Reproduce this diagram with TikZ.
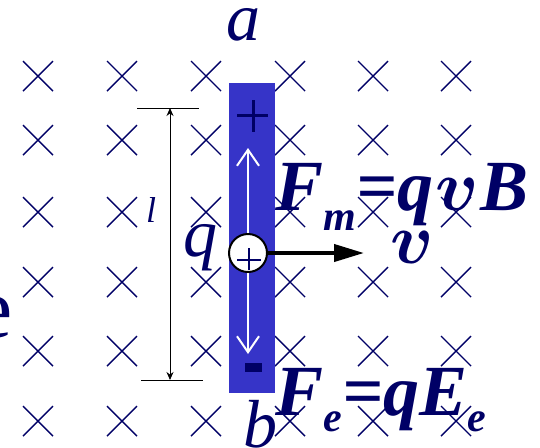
\RequirePackage{fix-cm}
\documentclass[tikz,border=0pt]{standalone}
\usepackage{bm}
\usepackage{fontspec}
\setmainfont{Liberation Serif}
\usetikzlibrary{arrows.meta}
\definecolor{navyink}{RGB}{0,0,102}
\definecolor{rodblue}{RGB}{54,52,200}

\begin{document}
\begin{tikzpicture}[x=0.5pt,y=-0.5pt,
  every node/.style={text=navyink,inner sep=0pt},
  cross/.style={draw=navyink,line width=0.7pt},
  letter/.style={font=\fontsize{34}{34}\selectfont\itshape},
  formula/.style={font=\fontsize{36}{36}\selectfont\bfseries\itshape}]
\useasboundingbox (0,0) rectangle (540,447);
% field into the page
\foreach \y in {76,140,212,282,351,421}
  \foreach \x in {38,122,206,290,373,456}
    \draw[cross] (\x-15,\y-15) -- (\x+15,\y+15) (\x-15,\y+15) -- (\x+15,\y-15);
\fill[white] (79,222) rectangle (104,268);
\node[font=\fontsize{43}{43}\selectfont,anchor=base east] (e) at (13,337) {e};
% rod
\node[fill=rodblue,minimum width=23pt,minimum height=155pt,anchor=north west] (rod) at (229,83) {};
\draw[navyink,line width=1.5pt] (237,115) -- (268,115) (253,100) -- (253,132);
\fill[navyink] (245,363) rectangle (262,372);
\coordinate (up) at (248,148);
\coordinate (down) at (248,354);
\draw[white,line width=1pt,{Straight Barb[length=8pt,width=11pt]}-{Straight Barb[length=8pt,width=11pt]}] (up) -- (down);
% charge
\node[circle,draw=black,fill=white,line width=1pt,minimum size=19pt] (charge) at (248,253) {};
\draw[navyink,line width=1pt] (237,260) -- (261,260) (249,248) -- (249,270);
\coordinate (vtip) at (364,253);
\draw[line width=2pt,-{Triangle[length=15pt,width=8.5pt]}] (charge) -- (vtip);
% length l
\coordinate (ltop) at (170,108);
\coordinate (lbot) at (170,380);
\draw[line width=0.5pt] ([xshift=-16.5pt]ltop) -- ([xshift=14.5pt]ltop) ([xshift=-14.5pt]lbot) -- ([xshift=16.5pt]lbot);
\draw[line width=0.5pt,{Stealth[length=4pt,width=3.5pt]}-{Stealth[length=4pt,width=3.5pt]}] (ltop) -- (lbot);
% labels
\node[letter,anchor=base] (a) at (243,40) {a};
\node[letter,anchor=base] (b) at (260,447) {b};
\node[letter,anchor=base] (q) at (200,256) {q};
\node[font=\fontsize{18}{18}\selectfont\itshape,anchor=base] (l) at (151,222) {l};
\node[formula,anchor=base] (v) at (412,263) {$\bm{v}$};
\node[formula,anchor=base west] (Fm) at (275,210) {F\raisebox{-10pt}{\fontsize{21}{21}\selectfont m}=q\kern1pt$\bm{v}$\kern1ptB};
\node[formula,anchor=base west] (Fe) at (275,415) {F\raisebox{-8pt}{\fontsize{21}{21}\selectfont e}=qE\raisebox{-8pt}{\fontsize{21}{21}\selectfont e}};
\end{tikzpicture}
\end{document}
